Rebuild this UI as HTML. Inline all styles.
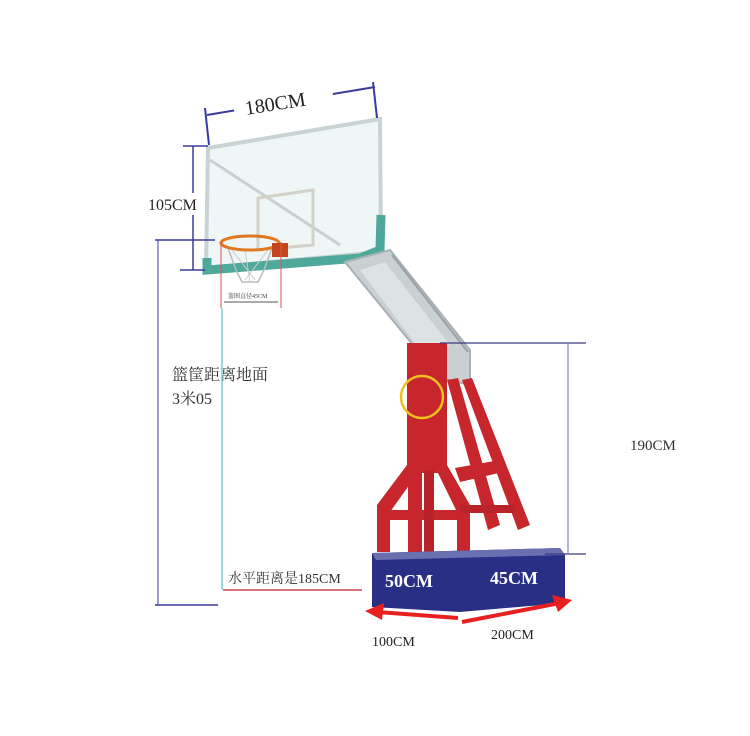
<!DOCTYPE html>
<html><head><meta charset="utf-8"><style>
html,body{margin:0;padding:0;background:#fff;}
svg{display:block}
text{font-family:"Liberation Serif","Noto Serif CJK SC",serif;}
</style></head><body>
<svg width="750" height="736" viewBox="0 0 750 736" xmlns="http://www.w3.org/2000/svg">
<rect width="750" height="736" fill="#fff"/>
<!-- backboard glass -->
<polygon points="208,148 380,119 381,252 206,268" fill="#eef6f6" stroke="#c8d4d4" stroke-width="4"/>
<line x1="210" y1="160" x2="340" y2="245" stroke="#c8d0d0" stroke-width="3"/>
<polygon points="258,198 313,190 313,245 258,250" fill="none" stroke="#d2d2c8" stroke-width="3"/>
<!-- teal bottom frame -->
<path d="M207,258 L207,270 L360,258 L380,250 L381,215" fill="none" stroke="#4fa99a" stroke-width="9"/>
<!-- arm -->
<polygon points="345,262 390,250 470,350 470,385 440,378" fill="#c9d0d2" stroke="#a8b0b4" stroke-width="2"/>
<polygon points="360,270 385,262 450,345 420,350" fill="#dde2e4"/>
<line x1="392" y1="255" x2="468" y2="352" stroke="#9aa2a6" stroke-width="2"/>
<!-- rim & net -->
<path d="M228,248 L236,270 L242,282 L258,282 L264,270 L272,248" fill="none" stroke="#bbb" stroke-width="1.5"/>
<path d="M232,250 L255,280 M268,250 L245,280 M245,250 L250,282" stroke="#ccc" stroke-width="1"/>
<ellipse cx="250" cy="243" rx="29" ry="7" fill="none" stroke="#e07820" stroke-width="3"/>
<rect x="272" y="243" width="16" height="14" fill="#c4441c"/>
<!-- red measurement lines near rim -->
<line x1="221" y1="242" x2="221" y2="308" stroke="#e05060" stroke-width="1"/>
<line x1="281" y1="242" x2="281" y2="308" stroke="#e05060" stroke-width="1"/>
<line x1="224" y1="302" x2="278" y2="302" stroke="#555" stroke-width="1"/>
<text x="228" y="298" font-size="6" fill="#444">篮圈直径45CM</text>
<!-- red post and frame -->
<rect x="407" y="343" width="40" height="130" fill="#c7262c"/>
<polygon points="447,380 458,378 500,525 488,530" fill="#c7262c"/>
<polygon points="462,380 472,378 530,525 518,530" fill="#c7262c"/>
<polygon points="407,465 420,470 390,512 390,552 377,552 377,505" fill="#c7262c"/>
<polygon points="434,465 447,465 470,505 470,552 457,552 457,512" fill="#c7262c"/>
<rect x="380" y="510" width="85" height="10" fill="#c7262c"/>
<rect x="408" y="470" width="14" height="82" fill="#c7262c"/>
<rect x="424" y="470" width="10" height="82" fill="#b82228"/>
<polygon points="455,468 500,460 503,472 460,482" fill="#c7262c"/>
<rect x="460" y="505" width="55" height="8" fill="#b82228"/>
<circle cx="422" cy="397" r="21" fill="none" stroke="#f0c020" stroke-width="2.5"/>
<!-- base -->
<polygon points="372,553 560,548 565,555 565,603 460,612 372,607" fill="#2a2f86"/>
<polygon points="372,553 560,548 565,555 376,560" fill="#6a6fb0"/>
<text x="385" y="587" font-size="18" font-weight="bold" fill="#fff">50CM</text>
<text x="490" y="584" font-size="18" font-weight="bold" fill="#fff">45CM</text>
<!-- 180CM dim -->
<line x1="207" y1="115" x2="375" y2="87" stroke="#3a3aa0" stroke-width="2"/>
<rect x="233" y="86" width="100" height="24" fill="#fff" transform="rotate(-9 283 99)"/>
<line x1="205" y1="108" x2="209" y2="145" stroke="#3a3aa0" stroke-width="2"/>
<line x1="373" y1="82" x2="377" y2="118" stroke="#3a3aa0" stroke-width="2"/>
<text x="244" y="109" font-size="20" fill="#222" transform="rotate(-9 283 99)">180CM</text>
<!-- 105CM -->
<line x1="193" y1="146" x2="193" y2="193" stroke="#3a3aa0" stroke-width="1.5"/>
<line x1="193" y1="215" x2="193" y2="270" stroke="#3a3aa0" stroke-width="1.5"/>
<line x1="183" y1="146" x2="208" y2="146" stroke="#3a3aa0" stroke-width="1.5"/>
<line x1="180" y1="270" x2="205" y2="270" stroke="#3a3aa0" stroke-width="1.5"/>
<text x="148" y="210" font-size="16" fill="#222">105CM</text>
<!-- height -->
<line x1="158" y1="240" x2="158" y2="605" stroke="#7a7ad0" stroke-width="1.5"/>
<line x1="155" y1="240" x2="215" y2="240" stroke="#3a3aa0" stroke-width="1.5"/>
<line x1="155" y1="605" x2="218" y2="605" stroke="#3a3aa0" stroke-width="1.5"/>
<text x="172" y="380" font-size="16" fill="#333">篮筐距离地面</text>
<text x="172" y="404" font-size="16" fill="#333">3米05</text>
<line x1="222" y1="308" x2="222" y2="590" stroke="#80d0d0" stroke-width="1.5"/>
<line x1="223" y1="590" x2="362" y2="590" stroke="#d04050" stroke-width="1.5"/>
<text x="228" y="583" font-size="14" fill="#333">水平距离是185CM</text>
<!-- 190CM -->
<line x1="440" y1="343" x2="586" y2="343" stroke="#3a3a80" stroke-width="1.2"/>
<line x1="545" y1="554" x2="586" y2="554" stroke="#3a3a80" stroke-width="1.2"/>
<line x1="568" y1="343" x2="568" y2="554" stroke="#8080d0" stroke-width="1.2"/>
<text x="630" y="450" font-size="15" fill="#333">190CM</text>
<!-- arrows -->
<line x1="458" y1="618" x2="378" y2="612" stroke="#e82020" stroke-width="4"/>
<polygon points="365,611 384,603 382,620" fill="#e82020"/>
<line x1="462" y1="622" x2="560" y2="603" stroke="#e82020" stroke-width="4"/>
<polygon points="572,600 552,595 558,612" fill="#e82020"/>
<text x="372" y="646" font-size="14" fill="#222" font-family="Liberation Sans">100CM</text>
<text x="491" y="639" font-size="14" fill="#222" font-family="Liberation Sans">200CM</text>
</svg>
</body></html>
